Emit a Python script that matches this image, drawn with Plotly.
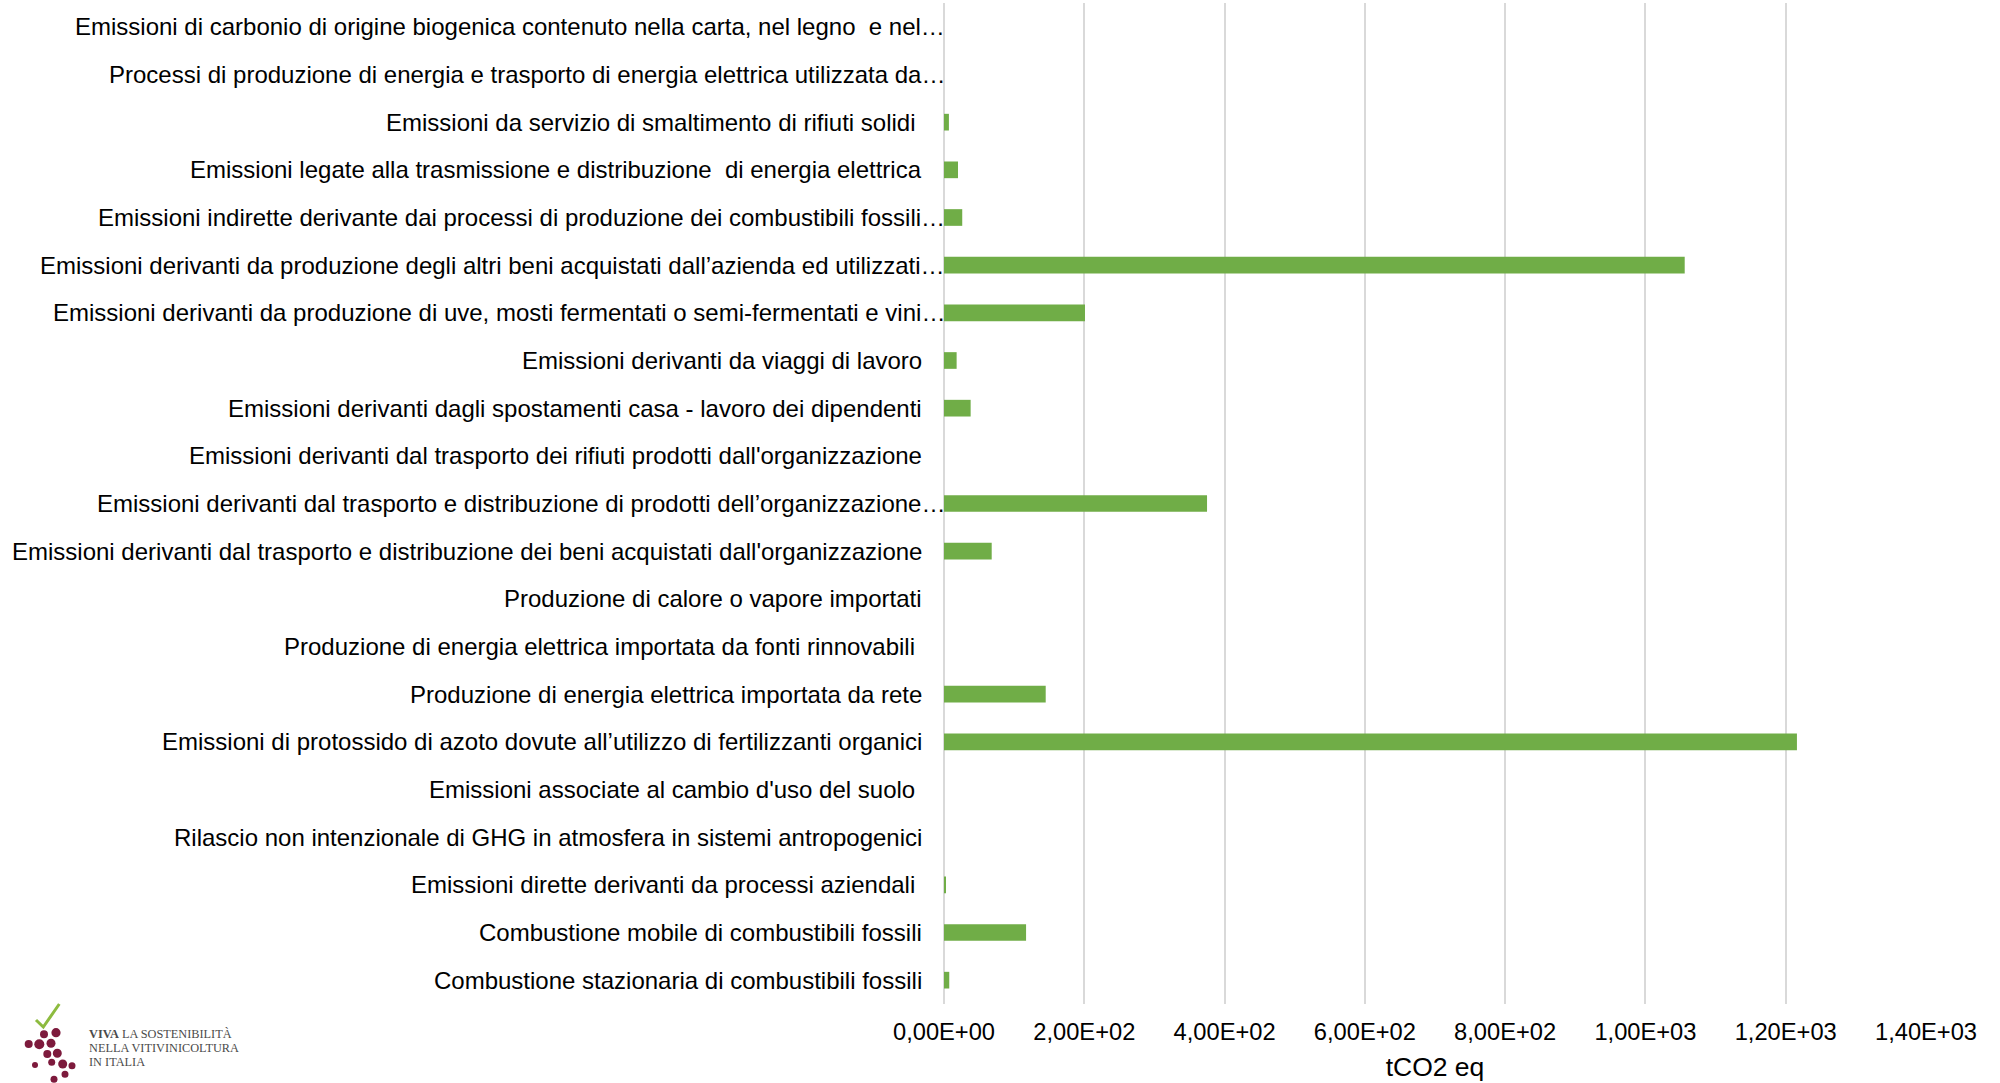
import plotly.graph_objects as go

categories = [
    "Emissioni di carbonio di origine biogenica contenuto nella carta, nel legno  e nel…",
    "Processi di produzione di energia e trasporto di energia elettrica utilizzata da…",
    "Emissioni da servizio di smaltimento di rifiuti solidi ",
    "Emissioni legate alla trasmissione e distribuzione  di energia elettrica",
    "Emissioni indirette derivante dai processi di produzione dei combustibili fossili…",
    "Emissioni derivanti da produzione degli altri beni acquistati dall’azienda ed utilizzati…",
    "Emissioni derivanti da produzione di uve, mosti fermentati o semi-fermentati e vini…",
    "Emissioni derivanti da viaggi di lavoro",
    "Emissioni derivanti dagli spostamenti casa - lavoro dei dipendenti",
    "Emissioni derivanti dal trasporto dei rifiuti prodotti dall'organizzazione",
    "Emissioni derivanti dal trasporto e distribuzione di prodotti dell’organizzazione…",
    "Emissioni derivanti dal trasporto e distribuzione dei beni acquistati dall'organizzazione",
    "Produzione di calore o vapore importati",
    "Produzione di energia elettrica importata da fonti rinnovabili ",
    "Produzione di energia elettrica importata da rete",
    "Emissioni di protossido di azoto dovute all’utilizzo di fertilizzanti organici",
    "Emissioni associate al cambio d'uso del suolo ",
    "Rilascio non intenzionale di GHG in atmosfera in sistemi antropogenici",
    "Emissioni dirette derivanti da processi aziendali ",
    "Combustione mobile di combustibili fossili",
    "Combustione stazionaria di combustibili fossili",
]
values = [0, 0, 7, 20, 26, 1056, 201, 18, 38, 0, 375, 68, 0, 0, 145, 1216, 0, 0, 2, 117, 7.5]

tick_vals = [0, 200, 400, 600, 800, 1000, 1200, 1400]
tick_text = ["0,00E+00", "2,00E+02", "4,00E+02", "6,00E+02", "8,00E+02", "1,00E+03", "1,20E+03", "1,40E+03"]
x_title = "tCO2 eq"

W, H = 2000, 1083
ML, MR, MT, MB = 944, 74, 3, 79
PW, PH = W - ML - MR, H - MT - MB

def px(x):
    return (x - ML) / PW

def py(y):
    return (H - MB - y) / PH

fig = go.Figure()
fig.add_trace(go.Bar(
    x=values, y=categories, orientation="h",
    marker=dict(color="#70AD47", line=dict(width=0)),
    hoverinfo="x+y",
))

annotations = []
for c in categories:
    truncated = c.endswith("…")
    label = c.replace("  ", " \u00a0")
    if label.endswith(" "):
        label = label[:-1] + "\u00a0"
    annotations.append(dict(
        x=0, y=c, xref="x", yref="y", text=label, showarrow=False,
        xanchor="right", yanchor="middle",
        xshift=3 if truncated else -20,
        font=dict(family="Liberation Sans, Arial, sans-serif", size=24, color="#000000"),
    ))

# logo text
logo_font = "Liberation Serif, DejaVu Serif, serif"
for i, t in enumerate(["<b>VIVA</b> LA SOSTENIBILITÀ", "NELLA VITIVINICOLTURA", "IN ITALIA"]):
    annotations.append(dict(
        x=px(87), y=py(1034 + i * 14), xref="paper", yref="paper", text=t,
        showarrow=False, xanchor="left", yanchor="middle",
        font=dict(family=logo_font, size=12.3, color="#4a4a4a"),
    ))

shapes = []
grapes = [(44, 1034.3, 4), (56, 1032.7, 4.6), (28.7, 1044, 4), (39.3, 1044.3, 5), (51, 1043.3, 4.5),
          (47.3, 1054, 4), (57.3, 1053.3, 4.5), (35, 1065, 3), (51.7, 1062.3, 3.5), (62.7, 1064, 4.5),
          (72, 1065.7, 3.5), (65, 1074.3, 3.5), (54, 1079.3, 3.5)]
for gx, gy, r in grapes:
    shapes.append(dict(type="circle", xref="paper", yref="paper",
                       x0=px(gx - r), x1=px(gx + r), y0=py(gy + r), y1=py(gy - r),
                       fillcolor="#7d1a3c", line=dict(width=0), layer="above"))
check = [(36, 1020), (43.3, 1027), (59.3, 1004)]
shapes.append(dict(type="path", xref="paper", yref="paper",
                   path="M {} {} L {} {} L {} {}".format(px(check[0][0]), py(check[0][1]),
                                                         px(check[1][0]), py(check[1][1]),
                                                         px(check[2][0]), py(check[2][1])),
                   line=dict(color="#8dbb3f", width=3)))

fig.update_layout(
    width=W, height=H,
    margin=dict(l=ML, r=MR, t=MT, b=MB, pad=0),
    paper_bgcolor="white", plot_bgcolor="white",
    bargap=0.65,
    showlegend=False,
    font=dict(family="Liberation Sans, Arial, sans-serif", color="#000000"),
    annotations=annotations,
    shapes=shapes,
    xaxis=dict(
        range=[0, 1400], tickvals=tick_vals, ticktext=tick_text,
        showgrid=True, gridcolor="#d9d9d9", gridwidth=2,
        zeroline=True, zerolinecolor="#d9d9d9", zerolinewidth=2,
        showline=False, ticks="outside", ticklen=7, tickcolor="rgba(0,0,0,0)",
        tickfont=dict(size=23.7, color="#000000"),
        title=dict(text=x_title, font=dict(size=26.5, color="#000000"), standoff=13),
        fixedrange=True,
    ),
    yaxis=dict(
        type="category", autorange="reversed", showticklabels=False,
        showgrid=False, zeroline=False, showline=False, ticks="",
        fixedrange=True,
    ),
)

fig.write_html("out.html")
